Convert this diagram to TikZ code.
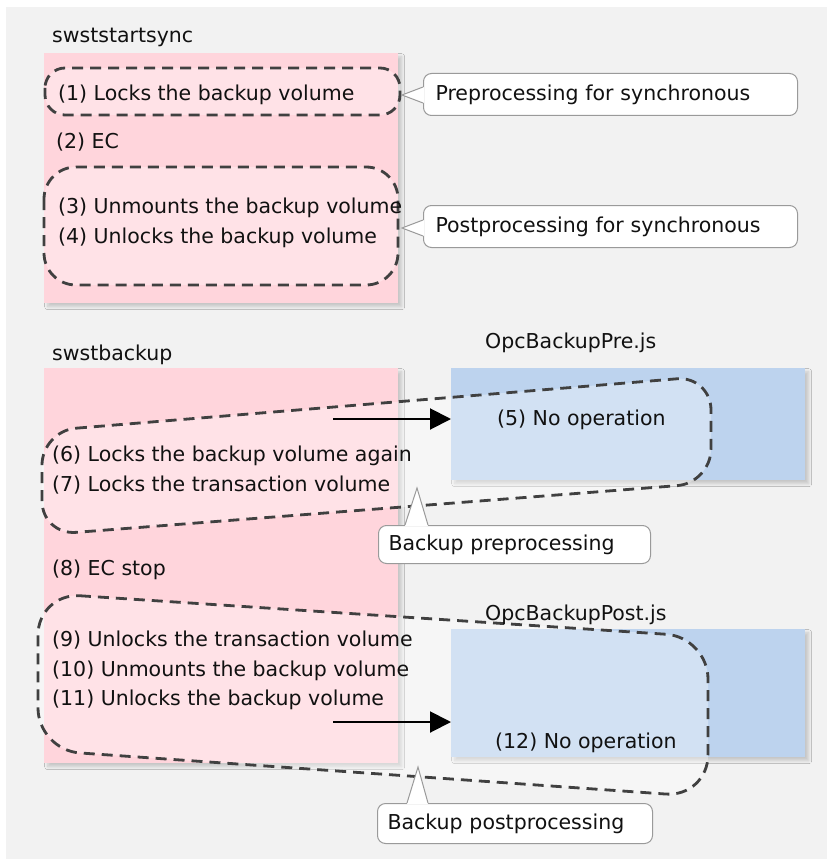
\documentclass[tikz,border=0pt]{standalone}
\usepackage{fontspec}
\setmainfont{DejaVu Sans}
\usetikzlibrary{arrows.meta,shadows.blur}
\definecolor{bg}{HTML}{F2F2F2}
\definecolor{pinkc}{HTML}{FFD5DC}
\definecolor{bluec}{HTML}{BDD3EE}
\definecolor{dashc}{HTML}{404040}
\definecolor{callb}{HTML}{9A9A9A}
\definecolor{txtc}{HTML}{111111}
\begin{document}
\begin{tikzpicture}[x=1pt,y=-1pt,
  font=\fontsize{20.5}{24}\selectfont,
  txt/.style={anchor=base west, inner sep=0pt, text=txtc},
  shad/.style={blur shadow={shadow xshift=3.5pt, shadow yshift=-3.5pt, shadow blur steps=5, shadow blur radius=3pt, shadow opacity=18}},
  pinkbox/.style={shad, fill=pinkc, draw=none, anchor=north west, inner sep=0pt},
  bluebox/.style={shad, fill=bluec, draw=none, anchor=north west, inner sep=0pt},
  grp/.style={draw=dashc, line width=2.8pt, dash pattern=on 11pt off 7pt, fill=white, fill opacity=0.32},
  callout/.style={draw=callb, line width=1pt, fill=white, rounded corners=8pt, anchor=north west, inner xsep=12pt, inner ysep=0pt, align=left, text=txtc},
  arr/.style={line width=2pt, -{Triangle[length=21pt,width=21pt]}}
]
\useasboundingbox (0,0) rectangle (827,861);
\fill[white] (0,0) rectangle (827,861);
\fill[bg] (6,7) rectangle (827,859);

% boxes
\node[pinkbox, minimum width=354pt, minimum height=250pt] (sync) at (44,53) {};
\node[pinkbox, minimum width=354pt, minimum height=395pt] (bk) at (44,368) {};
\node[bluebox, minimum width=354pt, minimum height=112pt] (pre) at (451,368) {};
\node[bluebox, minimum width=354pt, minimum height=128pt] (post) at (451,629) {};

% dashed groups
\draw[grp, rounded corners=20pt] (45,68) rectangle (400,115);
\draw[grp, rounded corners=32pt] (44,167) rectangle (398,285);
\draw[grp, rounded corners=34pt] (42,431) -- (711,376) -- (711,483) -- (42,535) -- cycle;
\draw[grp, rounded corners=42pt] (38,593) -- (708,637) -- (708,797) -- (38,750) -- cycle;

% arrows
\coordinate (a1) at (333,419);
\coordinate (a2) at (333,722);
\draw[arr] (a1) -- (a1 -| pre.west);
\draw[arr] (a2) -- (a2 -| post.west);

% titles
\node[txt] (n0) at (52,43) {swststartsync};
\node[txt] (n00) at (52,360) {swstbackup};
\node[txt] (npre) at (485,348) {OpcBackupPre.js};
\node[txt] (npost) at (485,620) {OpcBackupPost.js};

% texts
\node[txt] (t1) at (58,101) {(1) Locks the backup volume};
\node[txt] (t2) at (56,149) {(2) EC};
\node[txt] (t3) at (58,213) {(3) Unmounts the backup volume};
\node[txt] (t4) at (58,243) {(4) Unlocks the backup volume};
\node[txt] (t5) at (497,425) {(5) No operation};
\node[txt] (t6) at (52,461) {(6) Locks the backup volume again};
\node[txt] (t7) at (52,491) {(7) Locks the transaction volume};
\node[txt] (t8) at (52,575) {(8) EC stop};
\node[txt] (t9) at (52,646) {(9) Unlocks the transaction volume};
\node[txt] (t10) at (52,676) {(10) Unmounts the backup volume};
\node[txt] (t11) at (52,705) {(11) Unlocks the backup volume};
\node[txt] (t12) at (495,748) {(12) No operation};

% callouts
\node[callout, text width=350pt, minimum height=42pt] (c1) at (423,73) {Preprocessing for synchronous};
\node[callout, text width=350pt, minimum height=42pt] (c2) at (423,205) {Postprocessing for synchronous};
\node[callout, text width=252pt, minimum height=38pt, inner xsep=10pt] (c3) at (378,525) {Backup preprocessing};
\node[callout, text width=255pt, minimum height=40pt, inner xsep=10pt] (c4) at (377,803) {Backup postprocessing};

\coordinate (p1) at (402,95);
\coordinate (p2) at (402,228);
\coordinate (p3) at (417,488);
\coordinate (p4) at (418,767);
\fill[white] (424,87) -- (p1) -- (424,103) -- cycle;
\draw[callb, line width=1pt] (423,87) -- (p1) -- (423,103);
\fill[white] (424,220) -- (p2) -- (424,236) -- cycle;
\draw[callb, line width=1pt] (423,220) -- (p2) -- (423,236);
\fill[white] (405,526) -- (p3) -- (428,526) -- cycle;
\draw[callb, line width=1pt] (405,525) -- (p3) -- (428,525);
\fill[white] (407,804) -- (p4) -- (428,804) -- cycle;
\draw[callb, line width=1pt] (407,803) -- (p4) -- (428,803);
\end{tikzpicture}
\end{document}
